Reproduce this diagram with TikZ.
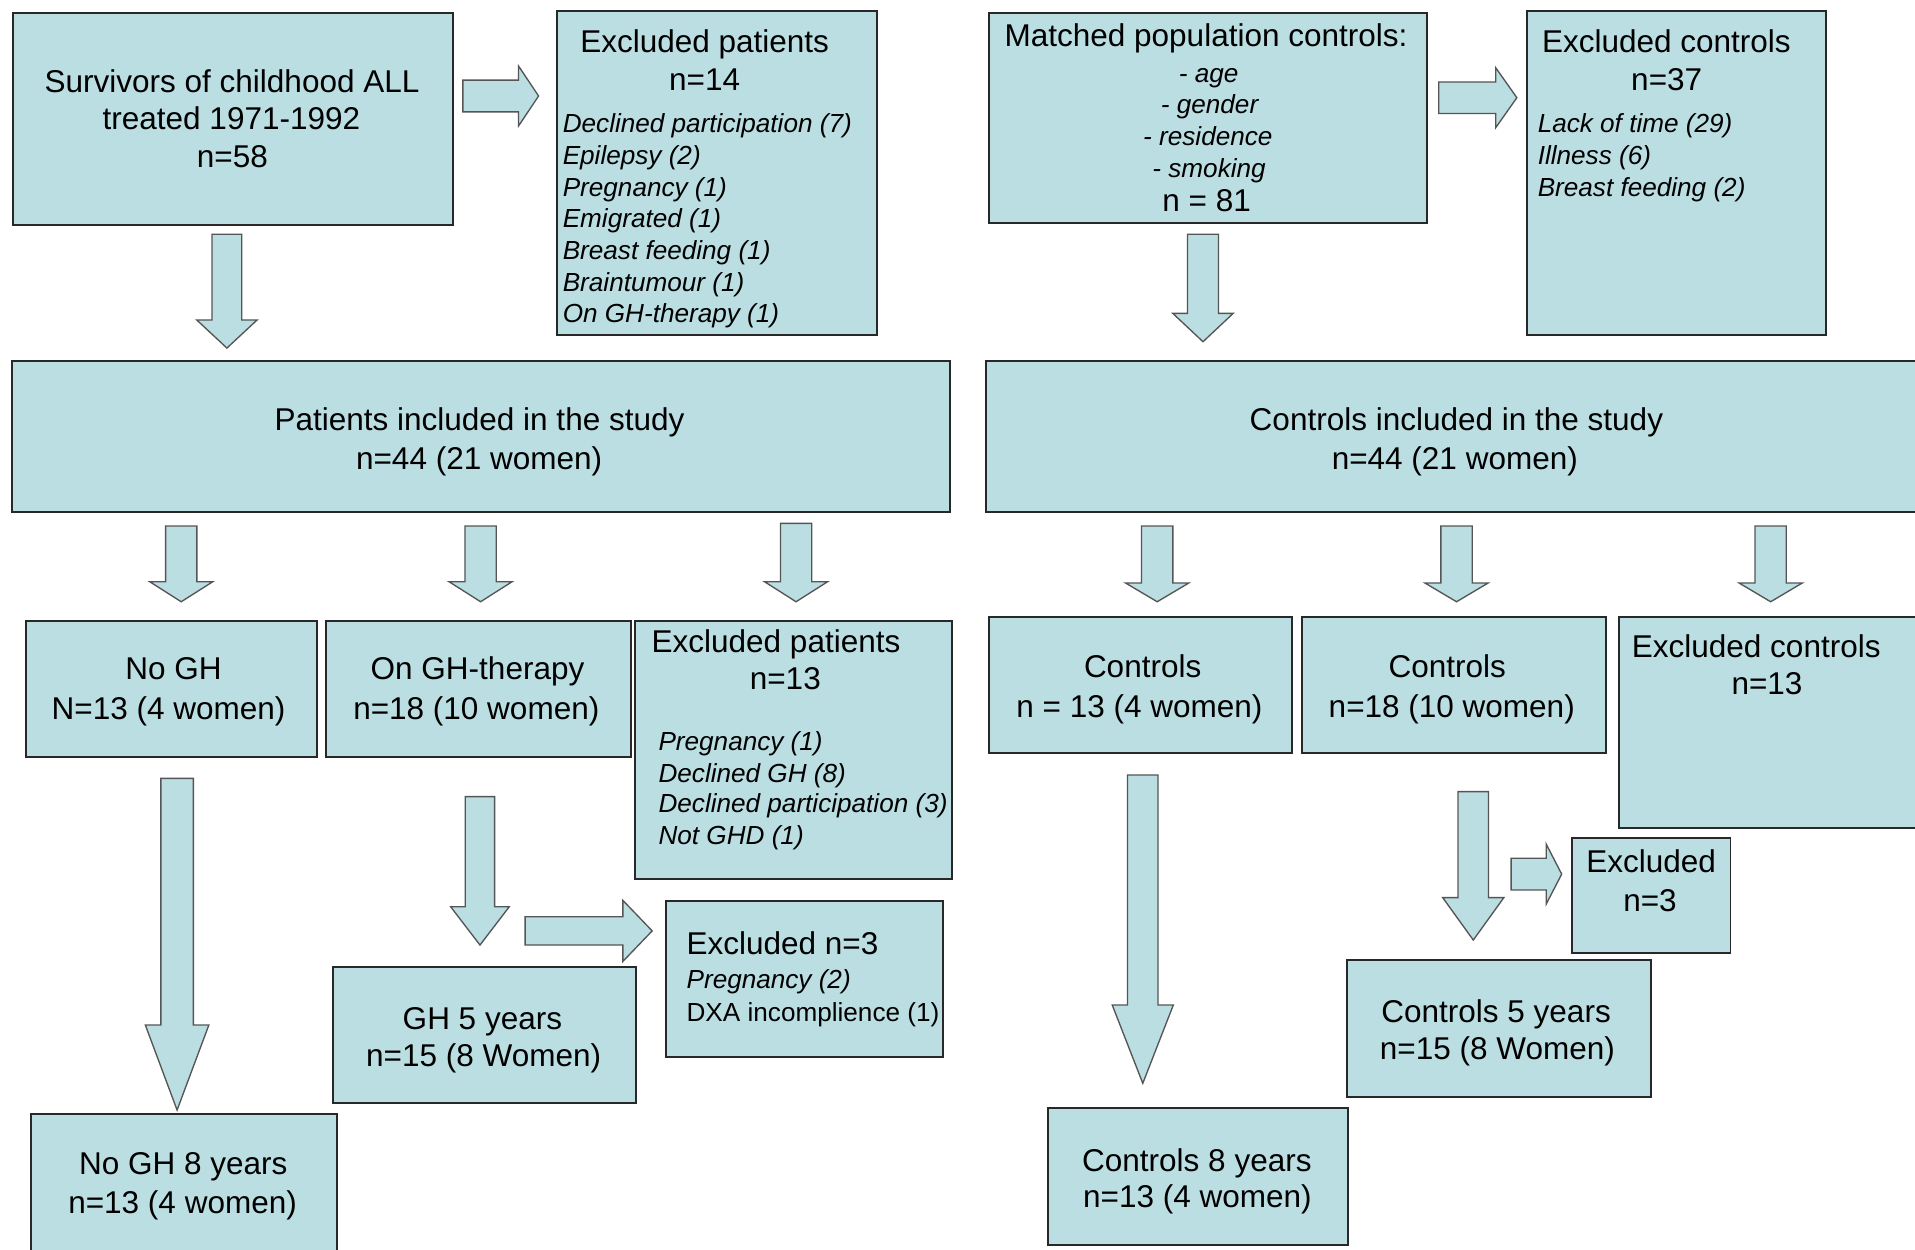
\documentclass[tikz,border=0pt]{standalone}
\usepackage{fontspec}
\setmainfont{Liberation Sans}
\definecolor{boxfill}{RGB}{187,222,226}
\definecolor{boxline}{RGB}{40,40,40}
\definecolor{arrline}{RGB}{85,85,85}
\tikzset{
  box/.style={draw=boxline, fill=boxfill, line width=1.6pt, inner sep=0pt},
  barrow/.style={draw=arrline, fill=boxfill, line width=1.1pt, line join=miter},
  tx/.style={font=\fontsize{25.8}{31}\selectfont, anchor=base, yshift=-9.2pt, inner sep=0pt},
  itl/.style={font=\fontsize{21.4}{26}\selectfont\itshape, anchor=base west, yshift=-7.7pt, inner sep=0pt},
  itc/.style={font=\fontsize{21.4}{26}\selectfont\itshape, anchor=base, yshift=-7.7pt, inner sep=0pt},
  sml/.style={font=\fontsize{21.4}{26}\selectfont, anchor=base west, yshift=-7.7pt, inner sep=0pt},
  txl/.style={font=\fontsize{25.8}{31}\selectfont, anchor=base west, yshift=-9.2pt, inner sep=0pt}
}
% down block arrow: cx, top, headstart, tip, shafthalf, headhalf
\newcommand\bdown[6]{\filldraw[barrow] ({#1-#5},#2) -- ({#1+#5},#2) -- ({#1+#5},#3) -- ({#1+#6},#3) -- (#1,#4) -- ({#1-#6},#3) -- ({#1-#5},#3) -- cycle;}
% right block arrow: cy, left, headstart, tip, shafthalf, headhalf
\newcommand\bright[6]{\filldraw[barrow] (#2,{#1-#5}) -- (#3,{#1-#5}) -- (#3,{#1-#6}) -- (#4,#1) -- (#3,{#1+#6}) -- (#3,{#1+#5}) -- (#2,{#1+#5}) -- cycle;}
\usetikzlibrary{fit}
\begin{document}
\begin{tikzpicture}[x=1pt,y=-1pt]
\useasboundingbox (0,0) rectangle (1568,1023);
\clip (0,0) rectangle (1568,1023);
\fill[white] (0,0) rectangle (1568,1023);

% ---- boxes ----
\node[box, fit={(10.3,10.4)(371.3,184.2)}] (surv) {};
\node[box, fit={(455.9,9)(718.2,274.3)}] (exP) {};
\node[box, fit={(809.8,10.4)(1168.6,182.3)}] (match) {};
\node[box, fit={(1250.6,9)(1494.8,274.3)}] (exC) {};
\node[box, fit={(10,295.3)(778.2,419)}] (pat) {};
\node[box, fit={(807,295.3)(1580,419)}] (con) {};
\node[box, fit={(21,508.2)(259.7,620)}] (nogh) {};
\node[box, fit={(267.3,508.2)(516.4,620)}] (ongh) {};
\node[box, fit={(520,508.2)(779.6,720)}] (exPb) {};
\node[box, fit={(809.5,504.9)(1057.8,616.8)}] (ctA) {};
\node[box, fit={(1066.3,504.9)(1314.6,616.8)}] (ctB) {};
\node[box, fit={(1325.6,504.9)(1580,678.2)}] (exCb) {};
\node[box, fit={(545,737.5)(772,865.2)}] (exthree) {};
\node[box, fit={(273,791.5)(521,902.9)}] (ghfive) {};
\node[box, fit={(25.1,912.2)(276.2,1035)}] (noghE) {};
\node[box, fit={(858,907.5)(1104,1019.4)}] (ctE) {};
\node[box, fit={(1287.1,686.4)(1416.9,780)}] (exthreeC) {};
\node[box, fit={(1103,786)(1352,898.5)}] (ctF) {};

% ---- block arrows ----
\bright{78.6}{379}{424.6}{441}{13}{24.5}
\bright{80}{1178}{1224.7}{1242}{12.9}{24.5}
\bdown{185.8}{191.8}{262}{285}{12.2}{24.7}
\bdown{985}{191.8}{256.6}{279.8}{12.7}{24.7}
\bdown{148.4}{430.7}{476.3}{492.7}{12.8}{25.8}
\bdown{393.5}{430.7}{476.3}{492.7}{12.8}{25.8}
\bdown{651.8}{428.5}{476.3}{492.7}{12.8}{25.8}
\bdown{947.5}{430.7}{477.4}{492.7}{12.8}{25.8}
\bdown{1192.6}{430.7}{477.4}{492.7}{12.8}{25.8}
\bdown{1449.8}{430.7}{477.4}{492.7}{12.8}{25.8}
\bdown{145}{637.3}{839.3}{908.9}{13.3}{26}
\bdown{393}{652.3}{742.4}{773.8}{12}{24}
\bright{762.2}{430}{510}{534}{11.6}{25}
\bdown{935.7}{634.6}{822.9}{887}{12.5}{25}
\bdown{1206.3}{648.2}{735}{769.7}{12.5}{25}
\bright{715.7}{1237.3}{1266}{1278.7}{13}{24.6}

% ---- texts ----
\node[tx] (t1) at (190,66.9) {Survivors of childhood ALL};
\node[tx] (t2) at (189.5,96.9) {treated 1971-1992};
\node[tx] (t3) at (190.3,128.3) {n=58};

\node[tx] (t4) at (577,34.1) {Excluded patients};
\node[tx] (t5) at (577,65) {n=14};
\node[itl] (t6) at (460.6,101) {Declined participation (7)};
\node[itl] (t7) at (460.6,126.9) {Epilepsy (2)};
\node[itl] (t8) at (460.6,152.9) {Pregnancy (1)};
\node[itl] (t9) at (460.6,178.8) {Emigrated (1)};
\node[itl] (t10) at (460.6,204.7) {Breast feeding (1)};
\node[itl] (t11) at (460.6,230.6) {Braintumour (1)};
\node[itl] (t12) at (460.6,256.6) {On GH-therapy (1)};

\node[tx] (t13) at (987.5,28.7) {Matched population controls:};
\node[itc] (t14) at (989.7,59.5) {- age};
\node[itc] (t15) at (990.4,85.2) {- gender};
\node[itc] (t16) at (989,111.4) {- residence};
\node[itc] (t17) at (990,137.8) {- smoking};
\node[tx] (t18) at (988,163.8) {n = 81};

\node[tx] (t19) at (1364.4,34.1) {Excluded controls};
\node[tx] (t20) at (1364.7,65) {n=37};
\node[itl] (t21) at (1258.9,101) {Lack of time (29)};
\node[itl] (t22) at (1258.9,126.9) {Illness (6)};
\node[itl] (t23) at (1258.9,153.4) {Breast feeding (2)};

\node[tx] (t24) at (392.6,343) {Patients included in the study};
\node[tx] (t25) at (392.3,375) {n=44 (21 women)};
\node[tx] (t26) at (1192.5,343) {Controls included in the study};
\node[tx] (t27) at (1191.2,375) {n=44 (21 women)};

\node[tx] (t28) at (142,547.2) {No GH};
\node[tx] (t29) at (138,580) {N=13 (4 women)};
\node[tx] (t30) at (391,547.2) {On GH-therapy};
\node[tx] (t31) at (390,580) {n=18 (10 women)};

\node[tx] (t32) at (635.4,525.4) {Excluded patients};
\node[tx] (t33) at (643,555.4) {n=13};
\node[itl] (t34) at (539,607) {Pregnancy (1)};
\node[itl] (t35) at (539,632.7) {Declined GH (8)};
\node[itl] (t36) at (539,657.8) {Declined participation (3)};
\node[itl] (t37) at (539,683.7) {Not GHD (1)};

\node[tx] (t38) at (935.6,545.9) {Controls};
\node[tx] (t39) at (933,578.6) {n = 13 (4 women)};
\node[tx] (t40) at (1185,545.9) {Controls};
\node[tx] (t41) at (1188.7,578.6) {n=18 (10 women)};
\node[tx] (t42) at (1438,529.5) {Excluded controls};
\node[tx] (t43) at (1446.8,559.5) {n=13};

\node[txl] (t44) at (562,772.4) {Excluded n=3};
\node[itl] (t45) at (562,801.9) {Pregnancy (2)};
\node[sml] (t46) at (562,828.4) {DXA incomplience (1)};

\node[tx] (t47) at (395,833.8) {GH 5 years};
\node[tx] (t48) at (396,863.8) {n=15 (8 Women)};
\node[tx] (t49) at (150,952.5) {No GH 8 years};
\node[tx] (t50) at (149.5,984) {n=13 (4 women)};

\node[tx] (t51) at (980,949.8) {Controls 8 years};
\node[tx] (t52) at (980.5,979.8) {n=13 (4 women)};
\node[tx] (t53) at (1352,705.5) {Excluded};
\node[tx] (t54) at (1351,736.9) {n=3};
\node[tx] (t55) at (1225,828.4) {Controls 5 years};
\node[tx] (t56) at (1226,858.4) {n=15 (8 Women)};
\end{tikzpicture}
\end{document}
